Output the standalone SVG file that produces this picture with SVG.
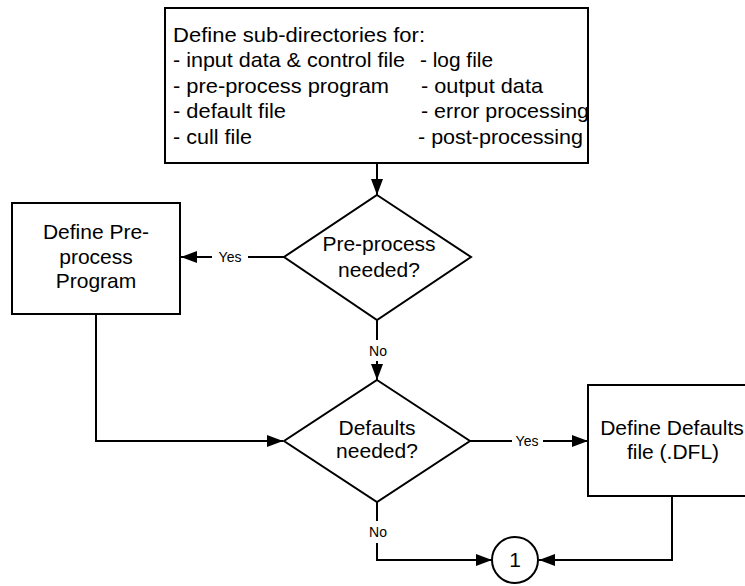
<svg xmlns="http://www.w3.org/2000/svg" width="745" height="586" viewBox="0 0 745 586">
<style>
  .shape { fill: #fff; stroke: #000; stroke-width: 2; }
  .conn { fill: none; stroke: #000; stroke-width: 2; }
  .t { font-family: "Liberation Sans", Arial, sans-serif; font-size: 21px; fill: #000; }
  .c { text-anchor: middle; }
  .lbl { font-family: "Liberation Sans", Arial, sans-serif; font-size: 14px; fill: #000; text-anchor: middle; }
</style>
<defs>
  <marker id="ah" viewBox="0 0 16 12" refX="16" refY="6" markerWidth="16" markerHeight="12" markerUnits="userSpaceOnUse" orient="auto">
    <path d="M0,0 L16,6 L0,12 z" fill="#000"/>
  </marker>
  <clipPath id="topclip"><rect x="165" y="8" width="422" height="154"/></clipPath>
</defs>
<rect width="745" height="586" fill="#fff"/>

<g id="connectors">
  <path class="conn" d="M377,163 V195" marker-end="url(#ah)"/>
  <path class="conn" d="M284,257 H248"/>
  <path class="conn" d="M212,257 H181" marker-end="url(#ah)"/>
  <text class="lbl" x="230" y="262">Yes</text>
  <path class="conn" d="M377,320 V340"/>
  <path class="conn" d="M377,361 V380" marker-end="url(#ah)"/>
  <text class="lbl" x="378" y="356">No</text>
  <path class="conn" d="M96,314 V441 H283" marker-end="url(#ah)"/>
  <path class="conn" d="M470,441 H512"/>
  <path class="conn" d="M543,441 H588" marker-end="url(#ah)"/>
  <text class="lbl" x="527" y="446">Yes</text>
  <path class="conn" d="M377,502 V521"/>
  <path class="conn" d="M377,543 V560 H492" marker-end="url(#ah)"/>
  <text class="lbl" x="378" y="537">No</text>
  <path class="conn" d="M672,496 V560 H539" marker-end="url(#ah)"/>
</g>

<g id="node-subdirs">
  <rect class="shape" x="165" y="8" width="423" height="155"/>
  <g clip-path="url(#topclip)">
    <text class="t" x="173" y="41.5" textLength="252" lengthAdjust="spacingAndGlyphs">Define sub-directories for:</text>
    <text class="t" x="173" y="67" textLength="232" lengthAdjust="spacingAndGlyphs">- input data &amp; control file</text>
    <text class="t" x="420" y="67" textLength="73" lengthAdjust="spacingAndGlyphs">- log file</text>
    <text class="t" x="173" y="92.5" textLength="216" lengthAdjust="spacingAndGlyphs">- pre-process program</text>
    <text class="t" x="421" y="92.5" textLength="122" lengthAdjust="spacingAndGlyphs">- output data</text>
    <text class="t" x="173" y="118" textLength="113" lengthAdjust="spacingAndGlyphs">- default file</text>
    <text class="t" x="421" y="118" textLength="168" lengthAdjust="spacingAndGlyphs">- error processing</text>
    <text class="t" x="173" y="143.5" textLength="79" lengthAdjust="spacingAndGlyphs">- cull file</text>
    <text class="t" x="418" y="143.5" textLength="165" lengthAdjust="spacingAndGlyphs">- post-processing</text>
  </g>
</g>

<g id="node-preprocess-decision">
  <polygon class="shape" points="377,195 471,257 377,320 284,257"/>
  <text class="t c" x="379" y="251">Pre-process</text>
  <text class="t c" x="379" y="277">needed?</text>
</g>

<g id="node-define-preprocess">
  <rect class="shape" x="12" y="203" width="168" height="111"/>
  <text class="t c" x="96" y="239">Define Pre-</text>
  <text class="t c" x="96" y="264">process</text>
  <text class="t c" x="96" y="288">Program</text>
</g>

<g id="node-defaults-decision">
  <polygon class="shape" points="377,380 470,441 377,502 284,441"/>
  <text class="t c" x="377" y="435">Defaults</text>
  <text class="t c" x="377" y="458">needed?</text>
</g>

<g id="node-define-defaults">
  <rect class="shape" x="588" y="385" width="170" height="111"/>
  <text class="t c" x="672" y="435">Define Defaults</text>
  <text class="t c" x="673" y="459">file (.DFL)</text>
</g>

<g id="node-connector-1">
  <circle class="shape" cx="515" cy="560" r="23"/>
  <text class="t c" x="515" y="567">1</text>
</g>
</svg>
